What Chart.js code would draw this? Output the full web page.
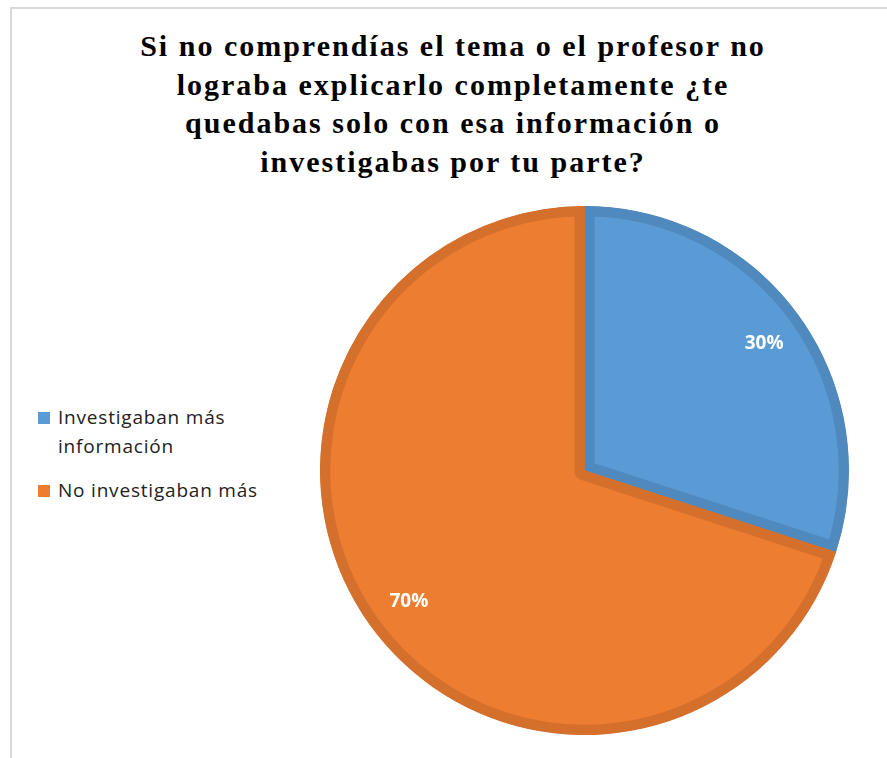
<!DOCTYPE html>
<html>
<head>
<meta charset="utf-8">
<script src="https://cdn.jsdelivr.net/npm/chart.js@4/dist/chart.umd.min.js"></script>
<style>
  body { margin: 0; background: #fff; }
  .page { position: relative; width: 887px; height: 758px; overflow: hidden; background: #fff; }
  .frame { position: absolute; left: 10px; top: 7px; width: 900px; height: 800px;
           border-left: 2px solid #d9d9d9; border-top: 2px solid #d9d9d9; }
  .title { position: absolute; left: 0; top: 27px; width: 906px; text-align: center;
           font-family: "Liberation Serif", "DejaVu Serif", serif; font-weight: bold;
           font-size: 30px; line-height: 38.5px; color: #000; letter-spacing: 2px; }
  .legend { position: absolute; left: 38px; top: 403px; font-family: "Open Sans", "Liberation Sans", sans-serif;
            font-size: 19px; line-height: 29px; color: #222; letter-spacing: 0.8px; }
  .legend-item { position: relative; padding-left: 20px; margin-bottom: 15px; }
  .legend-item span.box { position: absolute; left: 0; top: 9px; width: 12px; height: 12px; }
  .chart-box { position: absolute; left: 320px; top: 206px; width: 529px; height: 529px; }
</style>
</head>
<body>
<div class="page">
  <div class="frame"></div>
  <div class="title">Si no comprendías el tema o el profesor no<br>lograba explicarlo completamente ¿te<br>quedabas solo con esa información o<br>investigabas por tu parte?</div>
  <div class="legend" id="legend"></div>
  <div class="chart-box"><canvas id="pieChart"></canvas></div>
</div>
<script>
var categories = ['Investigaban más información', 'No investigaban más'];
var legendLines = [['Investigaban más', 'información'], ['No investigaban más']];
var percentages = [30, 70];
var fillColors = ['#5b9bd5', '#ed7d31'];
var edgeColors = ['#4f89be', '#d46f2c'];

document.addEventListener('DOMContentLoaded', function() {
    // legend a la izquierda
    var legend = document.getElementById('legend');
    categories.forEach(function(cat, i) {
        var item = document.createElement('div');
        item.className = 'legend-item';
        var box = document.createElement('span');
        box.className = 'box';
        box.style.background = fillColors[i];
        item.appendChild(box);
        item.appendChild(document.createTextNode(legendLines[i][0]));
        for (var k = 1; k < legendLines[i].length; k++) {
            item.appendChild(document.createElement('br'));
            item.appendChild(document.createTextNode(legendLines[i][k]));
        }
        legend.appendChild(item);
    });

    // etiquetas de porcentaje dentro de cada porción
    var percentLabels = {
        id: 'percentLabels',
        afterDatasetsDraw: function(chart) {
            var ctx = chart.ctx;
            var meta = chart.getDatasetMeta(0);
            ctx.save();
            ctx.fillStyle = '#ffffff';
            ctx.font = 'bold 19px "Open Sans", "Liberation Sans", sans-serif';
            ctx.textAlign = 'center';
            ctx.textBaseline = 'middle';
            meta.data.forEach(function(arc, i) {
                var p = arc.getProps(['x', 'y', 'startAngle', 'endAngle', 'outerRadius'], true);
                var mid = (p.startAngle + p.endAngle) / 2;
                var r = p.outerRadius * 0.83;
                ctx.fillText(percentages[i] + '%', p.x + Math.cos(mid) * r + 2, p.y + Math.sin(mid) * r + 2);
            });
            ctx.restore();
        }
    };

    var ctx = document.getElementById('pieChart').getContext('2d');
    new Chart(ctx, {
        type: 'pie',
        data: {
            labels: categories,
            datasets: [{
                data: percentages,
                backgroundColor: fillColors,
                borderColor: edgeColors,
                borderWidth: 10,
                borderAlign: 'inner'
            }]
        },
        options: {
            responsive: true,
            maintainAspectRatio: false,
            animation: false,
            layout: { padding: 0 },
            plugins: {
                legend: { display: false },
                tooltip: { enabled: false },
                title: { display: false }
            }
        },
        plugins: [percentLabels]
    });
});
</script>
</body>
</html>
